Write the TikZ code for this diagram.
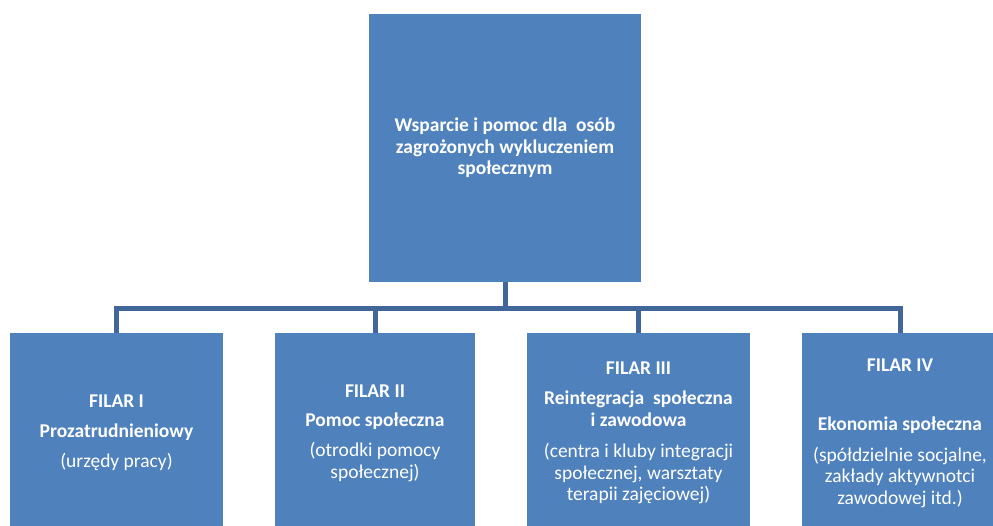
\documentclass[tikz,border=0pt]{standalone}
\usepackage{fontspec}
\setmainfont{Carlito}
\definecolor{boxblue}{HTML}{4F81BD}
\definecolor{linkblue}{HTML}{41679A}
\begin{document}
\begin{tikzpicture}[x=1pt,y=-1pt,
  box/.style={fill=boxblue,draw=none,inner sep=0pt,text=white,align=center,
    font=\fontsize{19.5}{21.5}\selectfont},
  link/.style={draw=linkblue,line width=5pt}]
\useasboundingbox (0,0) rectangle (993,525);
\clip (0,0) rectangle (993,525);
\node[box,minimum width=272pt,minimum height=268pt] (top) at (505,148)
  {\textbf{Wsparcie i pomoc dla\ \ osób}\\\textbf{zagrożonych wykluczeniem}\\\textbf{społecznym}};
\node[box,minimum width=213pt,minimum height=200pt] (b1) at (116.5,433)
  {\textbf{FILAR I}\\[8.5pt]\textbf{Prozatrudnieniowy}\\[8.5pt](urzędy pracy)};
\node[box,minimum width=200pt,minimum height=200pt] (b2) at (375,433)
  {\textbf{FILAR II}\\[8pt]\textbf{Pomoc społeczna}\\[8.5pt](otrodki pomocy\\społecznej)};
\node[box,minimum width=223pt,minimum height=200pt] (b3) at (638.5,433)
  {\textbf{FILAR III}\\[8.5pt]\textbf{Reintegracja\ \ społeczna}\\\textbf{i zawodowa}\\[10pt](centra i kluby integracji\\społecznej, warsztaty\\terapii zajęciowej)};
\node[box,minimum width=196pt,minimum height=200pt] (b4) at (900,433)
  {\textbf{FILAR IV}\\[38pt]\textbf{Ekonomia społeczna}\\[9pt](spółdzielnie socjalne,\\zakłady aktywnotci\\zawodowej itd.)};
\coordinate (j) at (505,308);
\draw[link] (top.south) -- (j);
\draw[link] (j) -| (b1.north);
\draw[link] (j) -| (b2.north);
\draw[link] (j) -| (b3.north);
\draw[link] (j) -| (b4.north);
\end{tikzpicture}
\end{document}
